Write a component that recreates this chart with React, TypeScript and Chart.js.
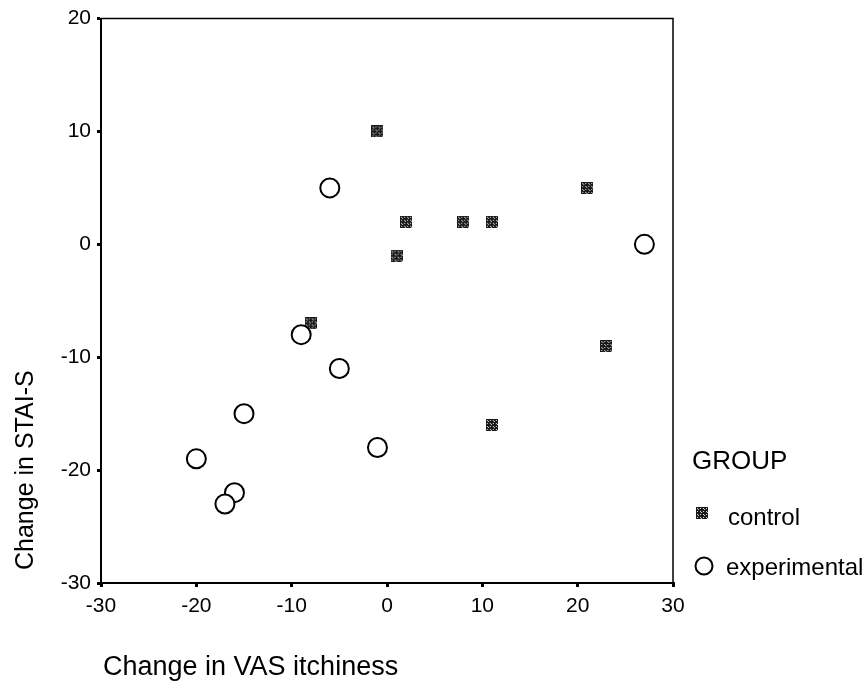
import React, { useEffect, useRef } from "react";
import { Chart, registerables } from "chart.js";

Chart.register(...registerables);

const controlX = [-1, 1, 2, 8, 11, 21, 23, 11, -8];
const controlY = [10, -1, 2, 2, 2, 5, -9, -16, -7];
const expX = [-6, 27, -9, -5, -15, -20, -16, -17, -1];
const expY = [5, 0, -8, -11, -15, -19, -22, -23, -18];

const xTitle = "Change in VAS itchiness";
const yTitle = "Change in STAI-S";
const legendTitle = "GROUP";
const groupNames = ["control", "experimental"];

const FONT = "'Liberation Sans', Arial, sans-serif";

function makeChecker(): HTMLCanvasElement {
  const c = document.createElement("canvas");
  c.width = 12;
  c.height = 12;
  const g = c.getContext("2d")!;
  g.fillStyle = "#1a1a1a";
  g.fillRect(0, 0, 12, 12);
  g.fillStyle = "#d8d8d8";
  for (let y = 0; y < 12; y++) {
    for (let x = 0; x < 12; x++) {
      if ((x % 3 === 1 && y % 3 === 1) || (x % 3 === 2 && y % 3 === 2 && (x + y) % 2 === 0)) {
        g.fillRect(x, y, 1, 1);
      }
    }
  }
  return c;
}

export default function App() {
  const ref = useRef<HTMLCanvasElement | null>(null);

  useEffect(() => {
    if (!ref.current) return;
    const checker = makeChecker();

    const decor = {
      id: "decor",
      afterDraw(chart: any) {
        const ctx = chart.ctx as CanvasRenderingContext2D;
        const a = chart.chartArea;
        ctx.save();
        ctx.strokeStyle = "#000";
        ctx.lineWidth = 1.5;
        ctx.beginPath();
        ctx.moveTo(a.left, a.top);
        ctx.lineTo(a.right, a.top);
        ctx.lineTo(a.right, a.bottom);
        ctx.stroke();

        ctx.fillStyle = "#000";
        ctx.font = `27px ${FONT}`;
        ctx.textAlign = "left";
        ctx.textBaseline = "alphabetic";
        ctx.fillText(xTitle, 103, 675);

        ctx.save();
        ctx.translate(33, 570);
        ctx.rotate(-Math.PI / 2);
        ctx.font = `25px ${FONT}`;
        ctx.fillText(yTitle, 0, 0);
        ctx.restore();

        ctx.textBaseline = "middle";
        ctx.font = `26px ${FONT}`;
        ctx.fillText(legendTitle, 692, 462);
        ctx.font = `24px ${FONT}`;
        ctx.fillText(groupNames[0], 728, 518);
        ctx.fillText(groupNames[1], 726, 568);
        ctx.drawImage(checker, 702 - 6, 513 - 6);
        ctx.beginPath();
        ctx.arc(704, 566, 8.5, 0, Math.PI * 2);
        ctx.fillStyle = "#fff";
        ctx.fill();
        ctx.lineWidth = 2;
        ctx.strokeStyle = "#000";
        ctx.stroke();
        ctx.restore();
      },
    };

    const chart = new Chart(ref.current, {
      type: "scatter",
      data: {
        datasets: [
          {
            label: groupNames[1],
            data: expX.map((x, i) => ({ x, y: expY[i] })),
            pointStyle: "circle",
            pointRadius: 9.5,
            pointBorderWidth: 2,
            borderColor: "#000",
            backgroundColor: "#fff",
            order: 0,
          },
          {
            label: groupNames[0],
            data: controlX.map((x, i) => ({ x, y: controlY[i] })),
            pointStyle: checker as any,
            pointRadius: 6,
            order: 1,
          },
        ],
      },
      options: {
        animation: false,
        responsive: true,
        maintainAspectRatio: false,
        layout: { padding: { top: 16, right: 189, left: 0, bottom: 0 } },
        plugins: {
          legend: { display: false },
          tooltip: { enabled: false },
        },
        scales: {
          x: {
            type: "linear",
            min: -30,
            max: 30,
            ticks: {
              stepSize: 10,
              color: "#000",
              font: { family: FONT, size: 21 },
              padding: 7,
            },
            grid: {
              drawOnChartArea: false,
              drawTicks: true,
              tickLength: 4,
              color: "#000",
              lineWidth: 3,
            },
            border: { display: true, color: "#000", width: 2 },
            afterFit: (s: any) => {
              s.height = 101;
            },
          },
          y: {
            type: "linear",
            min: -30,
            max: 20,
            ticks: {
              stepSize: 10,
              color: "#000",
              font: { family: FONT, size: 21 },
              padding: 6,
            },
            grid: {
              drawOnChartArea: false,
              drawTicks: true,
              tickLength: 4,
              color: "#000",
              lineWidth: 3,
            },
            border: { display: true, color: "#000", width: 2 },
            afterFit: (s: any) => {
              s.width = 101;
            },
          },
        },
      },
      plugins: [decor],
    });
    return () => chart.destroy();
  }, []);

  return (
    <div style={{ position: "fixed", left: 0, top: 0, width: 862, height: 684, background: "#fff" }}>
      <canvas ref={ref} />
    </div>
  );
}
